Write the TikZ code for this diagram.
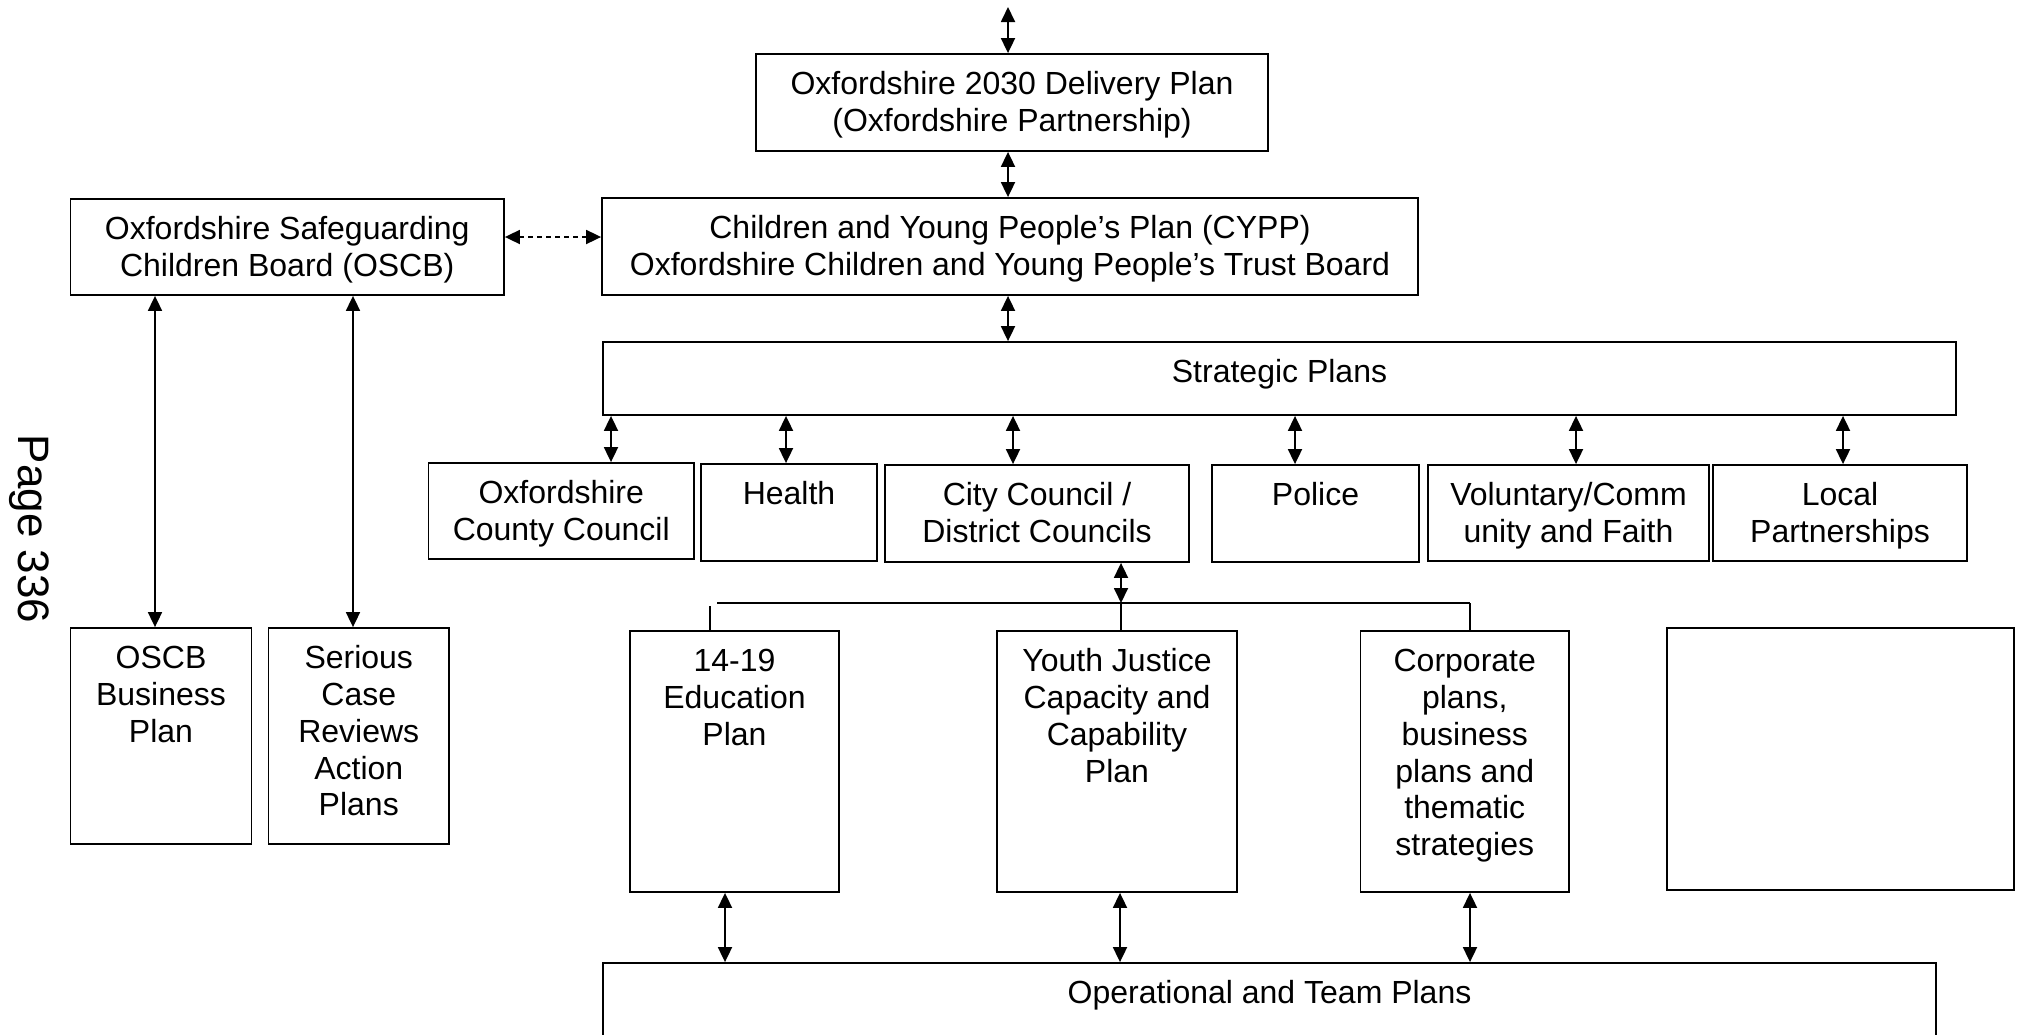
\documentclass[tikz,border=0pt]{standalone}
\usepackage{fontspec}
\setmainfont{Liberation Sans}
\usetikzlibrary{fit,arrows.meta,calc}
\newcommand\planbox[4]{%
  \node[box, fit={#2 #3}] (#1) {};
  \node[txt] (#1-t) at ([yshift=-15.7pt]#1.north) {\strut #4};}
\begin{document}
\begin{tikzpicture}[x=1pt,y=-1pt,
  box/.style={draw, line width=1.8pt, inner sep=0pt},
  txt/.style={align=center, inner sep=0pt, anchor=north, font=\fontsize{32}{36.8}\selectfont},
  arr/.style={line width=1.8pt, <->, >={Triangle[length=15pt,width=14pt]}},
  link/.style={line width=1.8pt}]
\fill[white] (0,0) rectangle (2024,1034);
\useasboundingbox (0,0) rectangle (2024,1034);
\clip (0,0) rectangle (2024,1034);

% boxes
\planbox{b2030}{(756,54)}{(1268,151)}{Oxfordshire 2030 Delivery Plan\\(Oxfordshire Partnership)}
\planbox{cypp}{(602,198)}{(1418,295)}{Children and Young People’s Plan (CYPP)\\Oxfordshire Children and Young People’s Trust Board}
\planbox{oscb}{(70.5,199)}{(504,295)}{Oxfordshire Safeguarding\\Children Board (OSCB)}
\planbox{strat}{(603,342)}{(1956,415)}{Strategic Plans}
\planbox{county}{(428.5,463)}{(694,559)}{Oxfordshire\\County Council}
\planbox{health}{(701,464)}{(877,561)}{Health}
\planbox{city}{(885,465)}{(1189,562)}{City Council /\\District Councils}
\planbox{police}{(1212,465)}{(1419,562)}{Police}
\planbox{vol}{(1428,465)}{(1709,561)}{Voluntary/Comm\\unity and Faith}
\planbox{local}{(1713,465)}{(1967,561)}{Local\\Partnerships}
\planbox{biz}{(70.5,628)}{(251.5,844)}{OSCB\\Business\\Plan}
\planbox{scr}{(268.5,628)}{(449,844)}{Serious\\Case\\Reviews\\Action\\Plans}
\planbox{edu}{(630,631)}{(839,892)}{14-19\\Education\\Plan}
\planbox{yj}{(997,631)}{(1237,892)}{Youth Justice\\Capacity and\\Capability\\Plan}
\planbox{corp}{(1360.5,631)}{(1569,892)}{Corporate\\plans,\\business\\plans and\\thematic\\strategies}
\node[box, fit={(1667,628) (2014,890)}] (empty) {};
\planbox{oper}{(603,963)}{(1936,1060)}{Operational and Team Plans}

% page stamp
\node[font=\fontsize{44}{50}\selectfont, rotate=-90, anchor=north, inner sep=0pt] (page) at (49,529) {Page 336};

% vertical chain
\coordinate (top) at (1008,7);
\draw[arr] (top) -- (top |- b2030.north);
\draw[arr] (b2030.south -| top) -- (cypp.north -| top);
\draw[arr] (cypp.south -| top) -- (strat.north -| top);

% dashed link
\draw[arr, dash pattern=on 5pt off 4pt] ([yshift=10pt]oscb.east) -- ([yshift=10pt]oscb.east -| cypp.west);

% OSCB links
\coordinate (ob1) at (155,0);
\coordinate (ob2) at (353,0);
\draw[arr] (oscb.south -| ob1) -- (biz.north -| ob1);
\draw[arr] (oscb.south -| ob2) -- (scr.north -| ob2);

% strategic to agencies
\coordinate (s1) at (611,0);
\coordinate (s2) at (786,0);
\coordinate (s3) at (1013,0);
\coordinate (s4) at (1295,0);
\coordinate (s5) at (1576,0);
\coordinate (s6) at (1843,0);
\draw[arr] (strat.south -| s1) -- (county.north -| s1);
\draw[arr] (strat.south -| s2) -- (health.north -| s2);
\draw[arr] (strat.south -| s3) -- (city.north -| s3);
\draw[arr] (strat.south -| s4) -- (police.north -| s4);
\draw[arr] (strat.south -| s5) -- (vol.north -| s5);
\draw[arr] (strat.south -| s6) -- (local.north -| s6);

% city councils branch
\coordinate (cx) at (1121,603);
\coordinate (hl) at (717,603);
\coordinate (hr) at (1470,603);
\coordinate (stub) at (710,606);
\draw[arr] (city.south -| cx) -- (cx);
\draw[link] (hl) -- (hr);
\draw[link] (cx) -- (yj.north -| cx);
\draw[link] (hr) -- (corp.north -| hr);
\draw[link] (stub) -- (edu.north -| stub);

% to operational
\coordinate (o1) at (725,0);
\coordinate (o2) at (1120,0);
\coordinate (o3) at (1470,0);
\draw[arr] (edu.south -| o1) -- (oper.north -| o1);
\draw[arr] (yj.south -| o2) -- (oper.north -| o2);
\draw[arr] (corp.south -| o3) -- (oper.north -| o3);
\end{tikzpicture}
\end{document}
